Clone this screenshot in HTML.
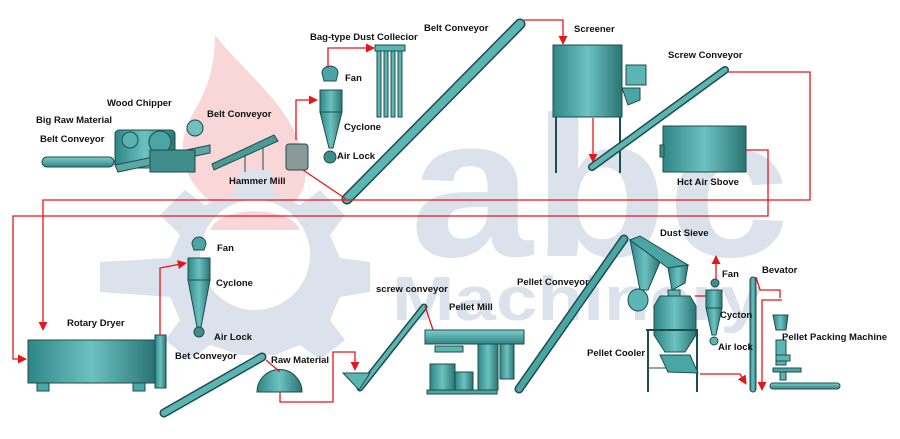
<!DOCTYPE html>
<html><head><meta charset="utf-8"><style>
html,body{margin:0;padding:0;background:#fff;}
svg{display:block;}
text{font-family:"Liberation Sans",sans-serif;font-weight:bold;font-size:9.5px;fill:#111;}
</style></head><body>
<svg width="900" height="439" viewBox="0 0 900 439" xmlns="http://www.w3.org/2000/svg">
<defs>
<linearGradient id="tg" x1="0" y1="0" x2="1" y2="0">
<stop offset="0" stop-color="#2f8686"/><stop offset="0.5" stop-color="#6cc2c0"/><stop offset="1" stop-color="#2a7474"/>
</linearGradient>
<linearGradient id="tv" x1="0" y1="0" x2="0" y2="1">
<stop offset="0" stop-color="#7fcfcc"/><stop offset="1" stop-color="#2f8484"/>
</linearGradient>
<marker id="ar" viewBox="0 0 10 10" refX="9" refY="5" markerWidth="7" markerHeight="7" orient="auto"><path d="M0,0 L10,5 L0,10 z" fill="#e8141a"/></marker>
</defs>
<!-- watermark -->
<path d="M215,35 C250,80 300,110 305,170 C310,215 250,225 225,210 C185,190 170,150 195,110 C210,85 215,60 215,35 Z" fill="#f9d6d7"/>
<g fill="#dce2eb">
<path d="M240,170 L270,170 L275,195 L300,205 L320,190 L345,215 L330,235 L340,258 L370,262 L370,292 L340,297 L330,320 L345,340 L320,360 L300,345 L275,355 L240,355 L210,345 L190,360 L165,340 L180,320 L170,297 L100,292 L100,262 L170,258 L180,235 L160,215 L185,190 L205,205 L235,195 Z"/>
</g>
<circle cx="255" cy="255" r="55" fill="#fff"/>
<path d="M210,230 C220,205 290,205 300,230 Z" fill="#f9d6d7"/>
<text x="410" y="256" textLength="380" lengthAdjust="spacingAndGlyphs" style="font-size:200px;fill:#dce2eb;font-weight:bold">abc</text>
<text x="392" y="320" textLength="370" lengthAdjust="spacingAndGlyphs" style="font-size:62px;fill:#dce2eb;font-weight:bold">Machinery</text>

<g stroke="#1f4c4c" stroke-width="1">
<rect x="42" y="157" width="72" height="10" rx="5" fill="url(#tv)"/>
<rect x="115" y="130" width="60" height="38" rx="4" fill="url(#tg)"/>
<circle cx="160" cy="142" r="11" fill="#4aa6a4"/>
<circle cx="130" cy="140" r="8" fill="#5ab3b0"/>
<circle cx="195" cy="128" r="8" fill="#6fc0bd"/>
<polygon points="115,165 210,145 210,153 118,172" fill="#5aa7a5"/>
<rect x="150" y="150" width="45" height="22" fill="#3f8e8c"/>
<polygon points="212,164 274,135 278,141 214,170" fill="#4a9a98"/>
<line x1="245" y1="155" x2="245" y2="172"/><line x1="263" y1="148" x2="263" y2="170"/>
<rect x="286" y="144" width="22" height="26" rx="3" fill="#8a9a9a"/>
<line x1="347" y1="199" x2="520" y2="24" stroke="#1f4c4c" stroke-width="11" stroke-linecap="round"/>
<line x1="347" y1="199" x2="520" y2="24" stroke="#5bb5b2" stroke-width="8" stroke-linecap="round"/>
<path d="M322,73 a8,7 0 0 1 16,0 l-2,8 h-12 z" fill="#4aa6a4"/>
<rect x="320" y="90" width="22" height="22" fill="url(#tg)"/>
<polygon points="320,112 342,112 333,148 329,148" fill="url(#tg)"/>
<circle cx="330" cy="157" r="6" fill="#3f8e8c"/>
<rect x="375" y="45" width="30" height="6" fill="#5bb5b2"/>
<rect x="377" y="51" width="4" height="66" fill="#5bb5b2"/><rect x="384" y="51" width="4" height="66" fill="#5bb5b2"/><rect x="391" y="51" width="4" height="66" fill="#5bb5b2"/><rect x="398" y="51" width="4" height="66" fill="#5bb5b2"/>
<rect x="553" y="45" width="69" height="72" fill="url(#tg)"/>
<rect x="626" y="65" width="20" height="20" fill="#5bb5b2"/>
<polygon points="622,88 640,88 640,100 628,105" fill="#4aa6a4"/>
<line x1="556" y1="117" x2="556" y2="173" stroke-width="2"/><line x1="620" y1="117" x2="620" y2="173" stroke-width="2"/>
<line x1="592" y1="167" x2="725" y2="70" stroke="#1f4c4c" stroke-width="8" stroke-linecap="round"/>
<line x1="592" y1="167" x2="725" y2="70" stroke="#5bb5b2" stroke-width="5" stroke-linecap="round"/>
<rect x="663" y="126" width="83" height="46" fill="url(#tg)"/>
<rect x="660" y="145" width="4" height="12" fill="#3f8e8c"/>

<rect x="28" y="340" width="127" height="43" fill="url(#tg)"/>
<rect x="37" y="383" width="12" height="8" fill="#4aa6a4"/><rect x="133" y="383" width="12" height="8" fill="#4aa6a4"/>
<rect x="155" y="335" width="11" height="53" fill="url(#tg)"/>
<path d="M192,244 a7,7 0 0 1 14,0 l-2,6 h-10 z" fill="#4aa6a4"/>
<rect x="188" y="258" width="22" height="22" fill="url(#tg)"/>
<polygon points="188,280 210,280 201,327 197,327" fill="url(#tg)"/>
<circle cx="199" cy="332" r="5" fill="#3f8e8c"/>
<line x1="164" y1="413" x2="262" y2="357" stroke="#1f4c4c" stroke-width="9" stroke-linecap="round"/>
<line x1="164" y1="413" x2="262" y2="357" stroke="#5bb5b2" stroke-width="6" stroke-linecap="round"/>
<path d="M257,392 a22,22 0 0 1 45,0 z" fill="url(#tg)"/>
<line x1="360" y1="388" x2="424" y2="307" stroke="#1f4c4c" stroke-width="7" stroke-linecap="round"/>
<line x1="360" y1="388" x2="424" y2="307" stroke="#5bb5b2" stroke-width="4" stroke-linecap="round"/>
<polygon points="343,373 370,373 359,390" fill="#5bb5b2"/>
<rect x="425" y="330" width="99" height="14" fill="url(#tv)"/>
<rect x="478" y="344" width="20" height="46" fill="url(#tg)"/>
<rect x="500" y="344" width="14" height="35" fill="url(#tg)"/>
<rect x="430" y="364" width="25" height="26" fill="url(#tg)"/>
<rect x="455" y="372" width="18" height="18" fill="url(#tg)"/>
<rect x="435" y="346" width="28" height="6" fill="#5bb5b2"/>
<rect x="427" y="390" width="70" height="4" fill="#4aa6a4"/>
<line x1="519" y1="389" x2="624" y2="239" stroke="#1f4c4c" stroke-width="9" stroke-linecap="round"/>
<line x1="519" y1="389" x2="624" y2="239" stroke="#4aa6a4" stroke-width="6" stroke-linecap="round"/>
<polygon points="630,240 660,262 648,290 640,290" fill="url(#tg)"/>
<ellipse cx="638" cy="300" rx="10" ry="11" fill="#5bb5b2"/>
<polygon points="630,240 640,236 688,265 668,268" fill="#4aa6a4"/>
<polygon points="668,268 688,265 685,283 672,290" fill="url(#tg)"/>
<rect x="668" y="290" width="12" height="6" fill="#5bb5b2"/>
<polygon points="660,296 690,296 696,306 696,335 685,352 665,352 654,335 654,306" fill="url(#tg)"/>
<line x1="646" y1="330" x2="698" y2="330" stroke-width="2"/>
<line x1="648" y1="330" x2="648" y2="392" stroke-width="2"/><line x1="697" y1="330" x2="697" y2="392" stroke-width="2"/>
<line x1="648" y1="368" x2="697" y2="368"/>
<polygon points="660,355 690,355 698,373 668,372" fill="#4aa6a4"/>
<circle cx="715" cy="283" r="4" fill="#3f8e8c"/>
<rect x="706" y="290" width="16" height="18" fill="url(#tg)"/>
<polygon points="706,308 722,308 716,335 712,335" fill="url(#tg)"/>
<circle cx="714" cy="341" r="4" fill="#5bb5b2"/>
<rect x="750" y="277" width="6" height="115" rx="3" fill="url(#tg)"/>
<polygon points="773,315 788,315 786,330 776,330" fill="url(#tg)"/>
<rect x="776" y="340" width="10" height="25" fill="#5bb5b2"/>
<rect x="776" y="355" width="14" height="6" fill="#5bb5b2"/>
<rect x="780" y="368" width="6" height="12" fill="#5bb5b2"/>
<rect x="773" y="368" width="28" height="4" fill="#4aa6a4"/>
<rect x="770" y="383" width="70" height="6" rx="3" fill="url(#tv)"/>
</g>

<g stroke="#e8141a" stroke-width="1.3" fill="none">
<polyline points="727,72 810,72 810,200 43,200 43,330" marker-end="url(#ar)"/>
<polyline points="746,150 768,150 768,216 13,216 13,359 26,359" marker-end="url(#ar)"/>
<polyline points="303,170 346,199"/>
<polyline points="524,20 563,20 563,44" marker-end="url(#ar)"/>
<polyline points="593,118 593,162" marker-end="url(#ar)"/>
<polyline points="296,140 296,100 317,100" marker-end="url(#ar)"/>
<polyline points="328,68 328,48 374,48" marker-end="url(#ar)"/>
<polyline points="160,335 160,268 186,263" marker-end="url(#ar)"/>
<polyline points="266,360 280,372"/>
<polyline points="280,392 280,402 333,402 333,352 355,352 355,370" marker-end="url(#ar)"/>
<polyline points="425,306 433,330"/>
<polyline points="695,296 706,296"/>
<polyline points="716,279 716,256" marker-end="url(#ar)"/>
<polyline points="700,374 740,374 746,384" marker-end="url(#ar)"/>
<polyline points="756,277 760,290 780,290 780,298"/>
<polyline points="782,300 762,300 762,390" marker-end="url(#ar)"/>
</g>

<text x="310" y="40">Bag-type Dust Collecior</text>
<text x="424" y="31">Belt Conveyor</text>
<text x="345" y="81">Fan</text>
<text x="344" y="130">Cyclone</text>
<text x="337" y="159">Air Lock</text>
<text x="107" y="106">Wood Chipper</text>
<text x="36" y="123">Big Raw Material</text>
<text x="40" y="142">Belt Conveyor</text>
<text x="207" y="117">Belt Conveyor</text>
<text x="229" y="184">Hammer Mill</text>
<text x="574" y="32">Screener</text>
<text x="668" y="58">Screw Conveyor</text>
<text x="677" y="185">Hct Air Sbove</text>
<text x="217" y="251">Fan</text>
<text x="216" y="286">Cyclone</text>
<text x="214" y="340">Air Lock</text>
<text x="67" y="326">Rotary Dryer</text>
<text x="175" y="359">Bet Conveyor</text>
<text x="271" y="363">Raw Material</text>
<text x="376" y="292">screw conveyor</text>
<text x="449" y="310">Pellet Mill</text>
<text x="517" y="285">Pellet Conveyor</text>
<text x="660" y="236">Dust Sieve</text>
<text x="587" y="356">Pellet Cooler</text>
<text x="722" y="277">Fan</text>
<text x="720" y="318">Cycton</text>
<text x="718" y="350">Air lock</text>
<text x="762" y="273">Bevator</text>
<text x="782" y="340">Pellet Packing Machine</text>
</svg>
</body></html>
